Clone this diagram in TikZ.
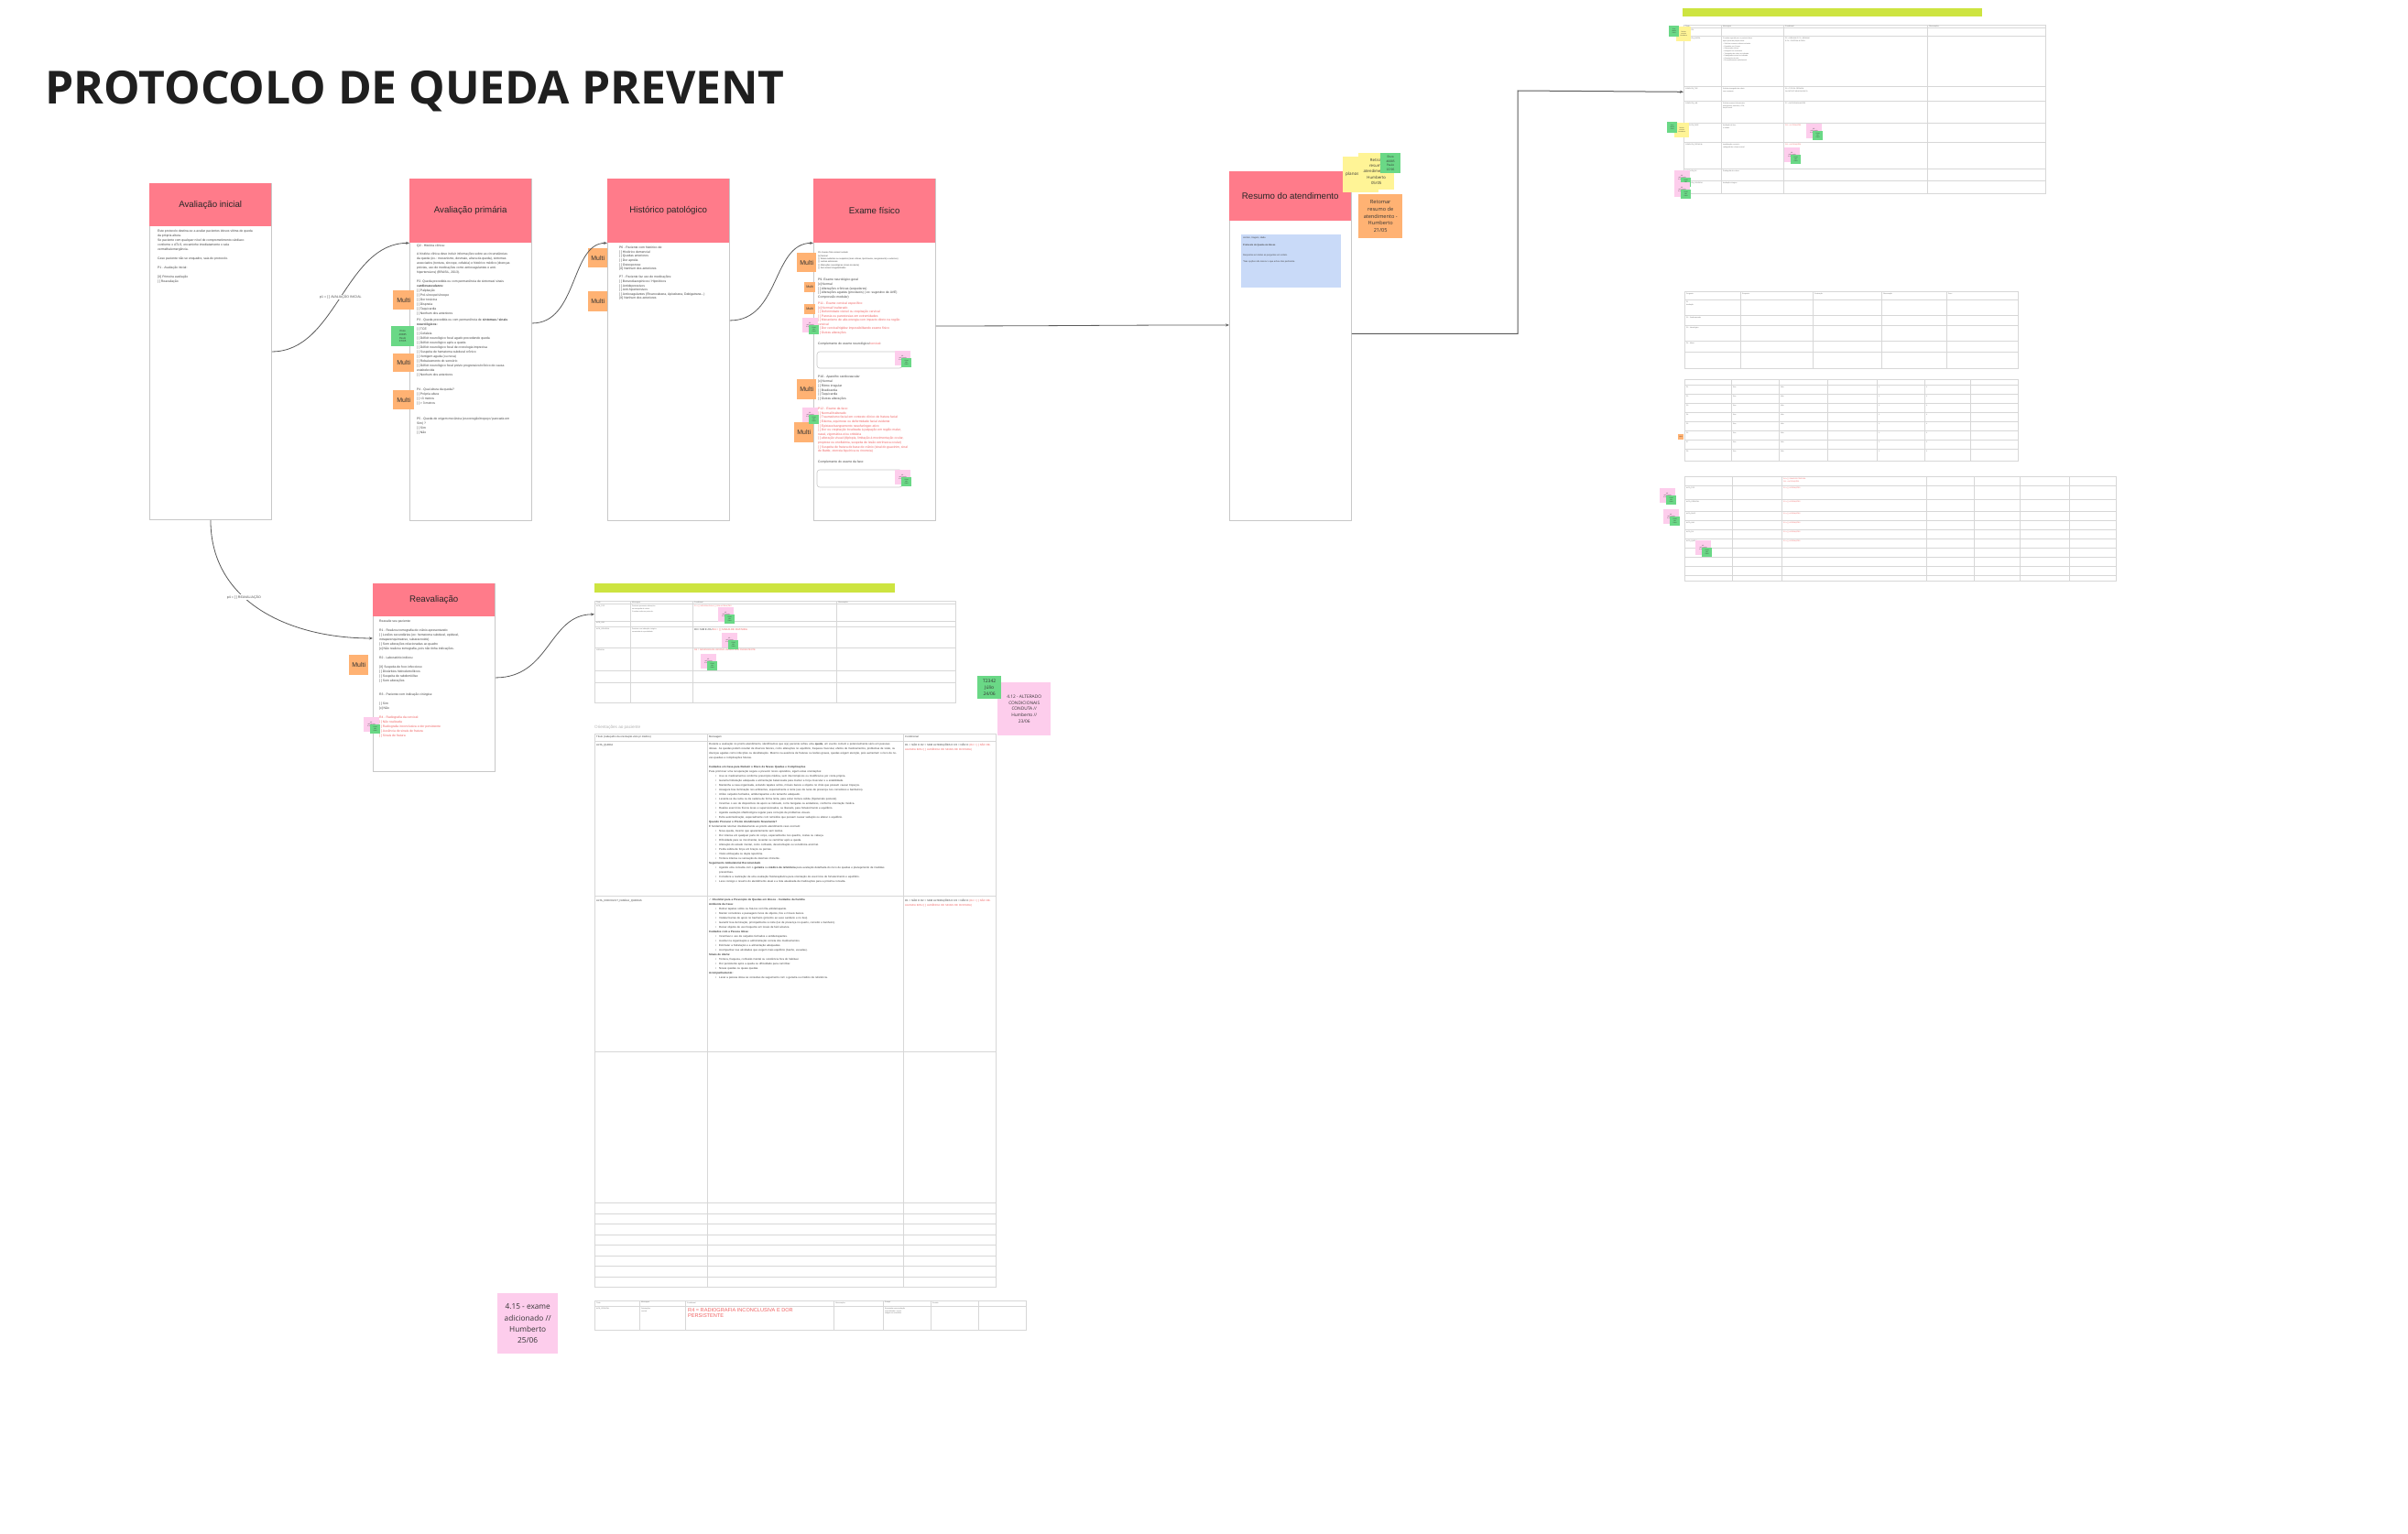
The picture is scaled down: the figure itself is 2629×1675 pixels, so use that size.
\documentclass[tikz,border=0pt]{standalone}
\usepackage{fontspec}
\setmainfont{Liberation Sans}
\newfontfamily\notas{Open Sans}
\newfontfamily\simb{DejaVu Sans}
\usetikzlibrary{arrows.meta}
\newcommand{\cx}[1]{[#1]}
\newenvironment{pontos}{\begin{list}{\textbullet}{\setlength{\leftmargin}{11pt}\setlength{\labelsep}{3pt}%
  \setlength{\itemsep}{0pt}\setlength{\parsep}{0pt}\setlength{\topsep}{0pt}\setlength{\partopsep}{0pt}}}{\end{list}}
\begin{document}
\begin{tikzpicture}[x=1pt,y=-1pt,
    cabeca/.style={fill=rosa, anchor=north west, minimum width=133, inner sep=0pt,
      text=black!85, font=\fontsize{9.7}{11}\selectfont},
    corpo/.style={draw=cinza, line width=0.9pt, fill=white, anchor=north west,
      minimum width=133, inner sep=0pt},
    texto/.style={anchor=north west, align=left, inner sep=0pt, text=black!75,
      font=\fontsize{3.4}{#1}\selectfont},
    texto/.default=5,
    miudo/.style={anchor=north west, align=left, inner sep=0pt, text=black!60,
      font=\fontsize{1.8}{2.6}\selectfont},
    multi/.style={fill=laranja, anchor=north west, inner sep=0pt, text=black!80,
      font=\fontsize{7}{8}\selectfont},
    nota/.style={anchor=north west, inner sep=0pt, align=center, text=black!80},
    seta/.style={draw=linha, line width=0.8pt, -{Stealth[length=4pt,width=3pt]}},
    rotulo/.style={fill=white, inner sep=0.8pt, text=black!70, font=\fontsize{3.6}{4}\selectfont},
    tabela/.style={draw=grade, line width=0.6pt, anchor=north west, inner sep=0pt},
    grade/.style={draw=grade, line width=0.6pt}
  ]
  % cores
  \definecolor{rosa}{RGB}{255,123,138}
  \definecolor{cinza}{RGB}{200,200,200}
  \definecolor{laranja}{RGB}{255,178,115}
  \definecolor{amarelo}{RGB}{255,244,150}
  \definecolor{verde}{RGB}{106,216,134}
  \definecolor{lilas}{RGB}{253,205,236}
  \definecolor{azul}{RGB}{201,218,248}
  \definecolor{limao}{RGB}{205,228,64}
  \definecolor{linha}{RGB}{90,90,90}
  \definecolor{grade}{RGB}{215,215,215}
  \definecolor{verm}{RGB}{240,95,95}

  % fundo e margens
  \fill[white] (0,0) rectangle (2629,1675);
  \useasboundingbox (0,0) rectangle (2629,1675);

  % titulo
  \node[anchor=west, inner sep=0pt, text=black!88, font=\notas\bfseries\fontsize{49.8}{55}\selectfont]
    (titulo) at (49,100) {PROTOCOLO DE QUEDA PREVENT};

  % Avaliacao inicial
  \node[corpo, minimum height=367] (ini) at (163,200) {};
  \node[cabeca, minimum height=47] (iniH) at (163,200) {Avaliação inicial};
  \node[texto] (iniT) at (172,251) {Este protocolo destina-se a avaliar pacientes idosos vítima de queda\\
    da própria altura.\\
    Se paciente com qualquer nível de comprometimento cárdiaco\\
    conforme o ATLS, encaminhe imediatamente o sala\\
    vermelha/emergência.\\[5pt]
    Caso paciente não se enquadre, saia do protocolo.\\[5pt]
    P1 - Avaliação inicial:\\[5pt]
    \cx{X} Primeira avaliação\\
    \cx{ } Reavaliação};

  % Avaliacao primaria
  \node[corpo, minimum height=373] (pri) at (447,195) {};
  \node[cabeca, minimum height=70] (priH) at (447,195) {Avaliação primária};
  \node[texto] at (455,267) {Q2 - História clínica:};
  \node[texto] at (455,276) {A história clínica deve incluir informações sobre as circunstâncias\\
    da queda (ex.: mecanismo, desmaio, altura da queda), sintomas\\
    associados (tontura, síncope, cefaleia) e histórico médico (doenças\\
    prévias, uso de medicações como anticoagulantes e anti-\\
    hipertensivos) (BRASIL, 2013).};
  \node[texto] at (455,306) {P2- Queda precedida ou com permanência de sintomas/ sinais\\
    \textbf{cardiovasculares:}\\
    \cx{ } Palpitação\\
    \cx{ } Pré-síncope/síncope\\
    \cx{ } Dor torácica\\
    \cx{ } Dispneia\\
    \cx{ } Taquicardia\\
    \cx{ } Nenhum dos anteriores};
  \node[texto] at (455,348) {P3 - Queda precedida ou com permanência de \textbf{sintomas / sinais}\\
    \textbf{neurológicos:}\\
    \cx{ } TCE\\
    \cx{ } Cefaleia\\
    \cx{ } Déficit neurológico focal agudo precedendo queda\\
    \cx{ } Déficit neurológico após a queda\\
    \cx{ } Déficit neurológico focal de cronologia imprecisa\\
    \cx{ } Suspeita de hematoma subdural crônico\\
    \cx{ } Vertigem aguda (ou nova)\\
    \cx{ } Rebaixamento do sensório\\
    \cx{ } Déficit neurológico focal prévio progressivo/crônico de causa\\
    estabelecida\\
    \cx{ } Nenhum dos anteriores};
  \node[texto] at (455,424) {P4 - Qual altura da queda?\\
    \cx{ } Própria altura\\
    \cx{ } <3 metros\\
    \cx{ } > 3 metros};
  \node[texto] at (455,456) {P5 - Queda de origem mecânica (escorregão/tropeço/ pancada em\\
    Sim) ?\\
    \cx{ } Sim\\
    \cx{ } Não};

  % Historico patologico
  \node[corpo, minimum height=373] (his) at (663,195) {};
  \node[cabeca, minimum height=70] (hisH) at (663,195) {Histórico patológico};
  \node[texto=4.6] at (676,269) {P6 - Paciente com histórico de:\\
    \cx{ } Histórico demencial\\
    \cx{ } Quedas anteriores\\
    \cx{ } Dor apnéia\\
    \cx{ } Osteoporose\\
    \cx{X} Nenhum dos anteriores\\[4.6pt]
    P7 - Paciente faz uso de medicações:\\
    \cx{ } Benzodiazepínicos / Hipnóticos\\
    \cx{ } Antidepressivos\\
    \cx{ } Anti-hipertensivos\\
    \cx{ } Anticoagulantes (Rivaroxabana, Apixabana, Dabigatrana...)\\
    \cx{X} Nenhum dos anteriores};

  % Exame fisico
  \node[corpo, minimum height=373] (exa) at (888,195) {};
  \node[cabeca, minimum height=70] (exaH) at (888,195) {Exame físico};
  \node[texto, font=\fontsize{2.3}{3.3}\selectfont] at (893,275) {P8- Exame físico sinais/ seriado\\
    \cx{x} Normal\\
    \cx{ } Sinais evidentes ou suspeitos (mais vítimas, tipo/trauma, sangramento) e externos)\\
    \cx{ } Lesões estruturais\\
    \cx{ } Alterações neurológicas (sinais de alerta)\\
    \cx{ } Sem sinais/ irregularidades};
  \node[texto=4.7] at (893,304) {P9- Exame neurológico geral\\
    \cx{x} Normal\\
    \cx{ } Alterações crônicas (sequelares)\\
    \cx{ } Alterações agudas (prováveis) ( ex: sugestivo de AVE)\\
    Compressão medular)};
  \node[texto=4.5, text=verm] at (893,330) {P11 - Exame cervical específico:\\
    \cx{x} Normal/ inalterado\\
    \cx{ } Deformidade visível ou crepitação cervical\\
    \cx{ } Paresia ou parestesias em extremidades\\
    \cx{ } Mecanismo de alta energia com impacto direto na região\\
    cervical\\
    \cx{ } Dor cervical/rigidez impossibilitando exame físico\\
    \cx{ } Outras alterações};
  \node[texto] at (893,374) {Complemento do exame neurológico/\textcolor{verm}{cervical}:};
  \draw[cinza, line width=0.6pt, rounded corners=3pt] (892,384) rectangle (985,402);
  \node[texto=4.8] at (893,410) {P10 - Aparelho cardiovascular\\
    \cx{x} Normal\\
    \cx{ } Ritmo irregular\\
    \cx{ } Bradicardia\\
    \cx{ } Taquicardia\\
    \cx{ } Outras alterações};
  \node[texto=4.6, text=verm] at (893,445) {P12 - Exame da face:\\
    \cx{ } Normal/inalterado\\
    \cx{ } Traumatismo facial em contexto clínico de fratura facial\\
    \cx{ } Edema, equimose ou deformidade facial evidente\\
    \cx{ } Epistaxe/sangramento nasofaríngeo ativo\\
    \cx{ } Dor ou crepitação localizada à palpação em região malar,\\
    nasal, zigomática e/ou orbitária\\
    \cx{ } alteração visual (diplopia, limitação à movimentação ocular,\\
    proptose ou enoftalmia, suspeita de lesão extrínseca ocular)\\
    \cx{ } Suspeita de fratura de base de crânio (sinal do guaxinim, sinal\\
    de Battle, otorreia liquórica ou rinorreia)};
  \node[texto] at (893,503) {Complemento do exame da face:};
  \draw[cinza, line width=0.6pt, rounded corners=3pt] (892,513) rectangle (985,532);

  % Resumo do atendimento
  \node[corpo, minimum height=381] (res) at (1342,187) {};
  \node[cabeca, minimum height=54] (resH) at (1342,187) {Resumo do atendimento};
  \node[fill=azul, anchor=north west, minimum width=109, minimum height=58, inner sep=0pt] (resB) at (1355,256) {};
  \node[texto=3.8, font=\fontsize{2.4}{3.8}\selectfont] at (1357,259) {Horário, triagem, idade.\\[3.5pt]
    \textbf{Protocolo de Queda em Idosos}\\[7pt]
    Respostas em todas as perguntas em ordem.\\[3.5pt]
    *Nas opções não marcar o que achou não pertinente};

  % Reavaliacao
  \node[corpo, minimum height=205] (rea) at (407,637) {};
  \node[cabeca, minimum height=36] (reaH) at (407,637) {Reavaliação};
  \node[texto] at (414,677) {Reavalie seu paciente:\\[5pt]
    R1 - Realizou tomografia de crânio apresentando:\\
    \cx{ } Lesões secundárias (ex: hematoma subdural, epidural,\\
    intraparenquimatoso, subaracnoide)\\
    \cx{ } Sem alterações relacionadas ao quadro\\
    \cx{x} Não realizou tomografia, pois não tinha indicações.\\[5pt]
    R2 - Laboratório indicou:\\[5pt]
    \cx{X} Suspeita de foco infeccioso\\
    \cx{ } Distúrbios hidroeletrolíticos\\
    \cx{ } Suspeita de rabdomiólise\\
    \cx{ } Sem alterações\\[10pt]
    R3 - Paciente com indicação cirúrgica:\\[5pt]
    \cx{ } Sim\\
    \cx{x} Não\\[5pt]
    \textcolor{verm}{R4 - Radiografia da cervical:}\\
    \textcolor{verm}{\cx{ } Não realizada}\\
    \textcolor{verm}{\cx{ } Radiografia inconclusiva e dor persistente}\\
    \textcolor{verm}{\cx{ } Ausência de sinais de fratura}\\
    \textcolor{verm}{\cx{ } Sinais de fratura}};

  % tabela da reavaliacao
  \fill[limao] (649,637) rectangle (977,647);
  \node[tabela, minimum width=394, minimum height=111] (tabR) at (649,656) {};
  \foreach \x in {688,756,913} \draw[grade] (\x,656) -- (\x,767);
  \foreach \y in {659,678,684,707,732,745} \draw[grade] (649,\y) -- (1043,\y);
  \node[miudo] at (651,657) {Título};
  \node[miudo] at (690,657) {Mensagem};
  \node[miudo] at (758,657) {Condicional};
  \node[miudo] at (915,657) {Observações};
  \node[miudo] at (651,661) {ALTA\_TCE};
  \node[miudo] at (690,661) {Paciente apresentou alterações\\na tomografia de crânio.\\[1pt]Conduta conforme protocolo.};
  \node[miudo, text=verm] at (758,661) {R1 = \cx{ } NÃO REALIZADA / \cx{ } SEM ALTERAÇÕES};
  \node[miudo] at (651,679) {ALTA\_LAB};
  \node[miudo] at (651,686) {ALTA\_CIRURGIA};
  \node[miudo] at (690,686) {Paciente com indicação cirúrgica,\\encaminhar à especialidade.};
  \node[texto, font=\fontsize{2.8}{3.5}\selectfont] at (758,686) {R3= SIM E /OU \textcolor{verm}{R4 = \cx{ } SINAIS DE FRATURA}};
  \node[miudo] at (651,709) {CERVICAL};
  \node[texto, text=verm, font=\fontsize{2.4}{3}\selectfont] at (758,709) {R4 = RADIOGRAFIA INCONCLUSIVA E DOR PERSISTENTE};

  % tabela grande
  \node[anchor=west, inner sep=0pt, text=black!30, font=\fontsize{4.6}{5}\selectfont] at (649,794) {Orientações ao paciente};
  \node[tabela, minimum width=438, minimum height=604] (tabG) at (649,801) {};
  \foreach \x in {772,986} \draw[grade] (\x,801) -- (\x,1405);
  \foreach \y in {809,978,1148,1313,1325,1336,1348,1359,1371,1382,1394} \draw[grade] (649,\y) -- (1087,\y);
  \node[texto, font=\fontsize{2.8}{3.4}\selectfont] at (651,803.5) {Título (cabeçalho da orientação visto p/ médico)};
  \node[texto, font=\fontsize{2.8}{3.4}\selectfont] at (774,803.5) {Mensagem};
  \node[texto, font=\fontsize{2.8}{3.4}\selectfont] at (988,803.5) {Condicional};
  \node[texto, font=\fontsize{2.8}{3.4}\selectfont] at (651,812) {ALTA\_QUEDA};
  \node[texto, font=\fontsize{2.8}{3.4}\selectfont] at (651,982) {ALTA\_CHECKLIST\_FAMÍLIA\_QUEDAS};
  \foreach \yy in {812,982}
    \node[texto, text width=94, font=\fontsize{2.8}{4.8}\selectfont] at (988,\yy) {R1 = NÃO E R2 = SEM ALTERAÇÕES E R3 = NÃO E \textcolor{verm}{(R4 = \cx{ } NÃO REALIZADA E/OU \cx{ } AUSÊNCIA DE SINAIS DE FRATURA)}};
  \node[texto, text width=207, font=\fontsize{2.9}{5}\selectfont] (msg1) at (774,811) {%
    Durante a avaliação no pronto atendimento, identificamos que o(a) paciente sofreu uma \textbf{queda}, um evento comum e
    potencialmente sério em pessoas idosas. As quedas podem resultar de diversos fatores, como alterações no equilíbrio,
    fraqueza muscular, efeitos de medicamentos, problemas de visão, ou doenças agudas como infecções ou desidratação.
    Mesmo na ausência de fraturas ou lesões graves, quedas exigem atenção, pois aumentam o risco de novas quedas e
    complicações futuras.\par\vspace{5pt}
    \textbf{Cuidados em Casa para Reduzir o Risco de Novas Quedas e Complicações}\par
    Para promover uma recuperação segura e prevenir novos episódios, sigam estas orientações:
    \begin{pontos}
      \item Use os medicamentos conforme prescrição médica, sem interrompê-los ou modificá-los por conta própria.
      \item Garanta hidratação adequada e alimentação balanceada para manter a força muscular e a estabilidade.
      \item Mantenha a casa organizada, evitando tapetes soltos, móveis baixos e objetos no chão que possam causar tropeços.
      \item Assegure boa iluminação nos ambientes, especialmente à noite (uso de luzes de presença nos corredores e banheiros).
      \item Utilize calçados fechados, antiderrapantes e do tamanho adequado.
      \item Levante-se da cama ou da cadeira de forma lenta, para evitar tontura súbita (hipotensão postural).
      \item Incentive o uso de dispositivos de apoio se indicado, como bengalas ou andadores, conforme orientação médica.
      \item Realize exercícios físicos leves e supervisionados, se liberado, para fortalecimento e equilíbrio.
      \item Agende avaliação oftalmológica regular para correção de problemas visuais.
      \item Evite automedicação, especialmente com remédios que possam causar sedação ou alterar o equilíbrio.
    \end{pontos}
    \textbf{Quando Procurar o Pronto Atendimento Novamente?}\par
    É fundamental retornar imediatamente ao pronto atendimento caso ocorram:
    \begin{pontos}
      \item Nova queda, mesmo que aparentemente sem lesões.
      \item Dor intensa em qualquer parte do corpo, especialmente nos quadris, costas ou cabeça.
      \item Dificuldade para se movimentar, levantar ou caminhar após a queda.
      \item Alteração do estado mental, como confusão, desorientação ou sonolência anormal.
      \item Perda súbita de força em braços ou pernas.
      \item Visão embaçada ou dupla repentina.
      \item Tontura intensa ou sensação de desmaio iminente.
    \end{pontos}
    \textbf{Seguimento Ambulatorial Recomendado}
    \begin{pontos}
      \item Agende uma consulta com o \textbf{geriatra} ou \textbf{médico de referência} para avaliação detalhada do risco de quedas e planejamento de medidas preventivas.
      \item Considere a realização de uma avaliação fisioterapêutica para orientação de exercícios de fortalecimento e equilíbrio.
      \item Leve consigo o resumo do atendimento atual e a lista atualizada de medicações para a próxima consulta.
    \end{pontos}};
  \node[texto, text width=207, font=\fontsize{2.9}{5}\selectfont] (msg2) at (774,981) {%
    \textbf{{\simb ✓} Checklist para a Prevenção de Quedas em Idosos - Cuidados da Família}\par
    \textbf{Ambiente da Casa:}
    \begin{pontos}
      \item Retirar tapetes soltos ou fixá-los com fita antiderrapante.
      \item Manter corredores e passagens livres de objetos, fios e móveis baixos.
      \item Instalar barras de apoio no banheiro (próximo ao vaso sanitário e no box).
      \item Garantir boa iluminação, principalmente à noite (luz de presença no quarto, corredor e banheiro).
      \item Deixar objetos de uso frequente em locais de fácil alcance.
    \end{pontos}
    \textbf{Cuidados com a Pessoa Idosa:}
    \begin{pontos}
      \item Incentivar o uso de calçados fechados e antiderrapantes.
      \item Auxiliar na organização e administração correta dos medicamentos.
      \item Estimular a hidratação e a alimentação adequadas.
      \item Acompanhar nas atividades que exigem mais equilíbrio (banho, escadas).
    \end{pontos}
    \textbf{Sinais de Alerta:}
    \begin{pontos}
      \item Tontura, fraqueza, confusão mental ou sonolência fora do habitual.
      \item Dor persistente após a queda ou dificuldade para caminhar.
      \item Novas quedas ou quase quedas.
    \end{pontos}
    \textbf{Acompanhamento:}
    \begin{pontos}
      \item Levar a pessoa idosa às consultas de seguimento com o geriatra ou médico de referência.
    \end{pontos}};

  % tabela de baixo
  \node[tabela, minimum width=471, minimum height=32] (tabB) at (649,1420) {};
  \foreach \x in {698,748,910,964,1016,1068} \draw[grade] (\x,1420) -- (\x,1452);
  \draw[grade] (649,1426) -- (1120,1426);
  \node[miudo] at (651,1421.5) {Título};
  \node[miudo] at (700,1421.5) {Mensagem};
  \node[miudo] at (750,1421.5) {Condicional};
  \node[miudo] at (912,1421.5) {Observações};
  \node[miudo] at (966,1421.5) {Prompt};
  \node[miudo] at (1018,1421.5) {Revisão};
  \node[miudo] at (651,1428) {ALTA\_CERVICAL};
  \node[miudo] at (700,1428) {Orientações\\cervical};
  \node[texto, text=verm, font=\fontsize{5.6}{6.4}\selectfont] at (751,1428) {R4 = RADIOGRAFIA INCONCLUSIVA E DOR\\PERSISTENTE};
  \node[miudo] at (966,1428) {Encaminhar para avaliação\\especializada e repetir\\imagem se necessário};

  % tabelas da direita
  \fill[limao] (1837,9) rectangle (2164,18);
  \node[tabela, minimum width=395, minimum height=184] (tabD) at (1838,27) {};
  \foreach \x in {1879,1947,2104} \draw[grade] (\x,27) -- (\x,211);
  \foreach \y in {30,39,94,110,134,155,184,197} \draw[grade] (1838,\y) -- (2233,\y);
  \node[miudo] at (1840,28) {Título};
  \node[miudo] at (1881,28) {Mensagem};
  \node[miudo] at (1949,28) {Condicional};
  \node[miudo] at (2106,28) {Observações};
  \foreach \yy/\rot in {32/CONDUTA, 41/CONDUTA\_QUEDA, 96/CONDUTA\_TCE, 112/CONDUTA\_LAB, 136/CONDUTA\_FACE, 157/CONDUTA\_CERVICAL, 186/CONDUTA\_RX, 199/CONDUTA\_CIRURGIA}
    \node[miudo] at (1840,\yy) {\rot};
  \node[miudo] at (1881,41) {Conduta sugerida para o paciente idoso\\após queda da própria altura:\\[1pt]
    -- Solicitar exames conforme achados\\-- Reavaliar em 6 horas\\-- Observação clínica\\-- Analgesia se necessário\\
    -- Tomografia de crânio se indicada\\-- Radiografia cervical se indicada\\-- Orientações de alta\\-- Encaminhamento ambulatorial};
  \node[miudo] at (1949,41) {P2 = NENHUM E P3 = NENHUM\\E P4 = PRÓPRIA ALTURA};
  \node[miudo] at (1881,96) {Solicitar tomografia de crânio\\sem contraste.};
  \node[miudo] at (1949,96) {P3 = TCE OU CEFALEIA\\OU DÉFICIT NEUROLÓGICO};
  \node[miudo] at (1881,112) {Solicitar exames laboratoriais:\\hemograma, eletrólitos, CPK,\\função renal.};
  \node[miudo] at (1949,112) {P7 = ANTICOAGULANTES};
  \node[miudo] at (1881,136) {Avaliação de face\\e órbitas.};
  \node[miudo, text=verm] at (1949,136) {P12 = ALTERAÇÕES};
  \node[miudo] at (1881,157) {Imobilização cervical e\\radiografia de coluna cervical.};
  \node[miudo, text=verm] at (1949,157) {P11 = ALTERAÇÕES};
  \node[miudo] at (1881,186) {Radiografia de coluna.};
  \node[miudo] at (1881,199) {Avaliação cirúrgica.};

  \node[tabela, minimum width=364, minimum height=84] (tabD2) at (1839,318) {};
  \foreach \x in {1900,1979,2054,2125} \draw[grade] (\x,318) -- (\x,402);
  \foreach \y in {327,344,355,372,384} \draw[grade] (1839,\y) -- (2203,\y);
  \foreach \xx/\rot in {1841/Pergunta, 1902/Resposta, 1981/Pontuação, 2056/Observação, 2127/Peso}
    \node[miudo] at (\xx,320) {\rot};
  \node[miudo] at (1841,329) {P1\\Avaliação};
  \node[miudo] at (1841,346) {P2 - Cardiovascular};
  \node[miudo] at (1841,357) {P3 - Neurológico};
  \node[miudo] at (1841,374) {P4 - Altura};

  \node[tabela, minimum width=364, minimum height=89] (tabD3) at (1839,414) {};
  \foreach \x in {1890,1942,1995,2049,2101,2151} \draw[grade] (\x,414) -- (\x,503);
  \foreach \y in {420,430,440,450,460,470,480,490} \draw[grade] (1839,\y) -- (2203,\y);
  \foreach \yy/\rot in {422/P1, 432/P2, 442/P3, 452/P4, 462/P5, 472/P6, 482/P7, 492/P8}
  {
    \node[miudo] at (1841,\yy) {\rot};
    \node[miudo] at (1892,\yy) {Sim};
    \node[miudo] at (1944,\yy) {Não};
    \node[miudo] at (2051,\yy) {1};
    \node[miudo] at (2103,\yy) {0};
  }

  \node[tabela, minimum width=471, minimum height=114] (tabD4) at (1839,520) {};
  \foreach \x in {1891,1945,2103,2155,2205,2259} \draw[grade] (\x,520) -- (\x,634);
  \foreach \y in {530,545,558,568,578,588,598,608,618,628} \draw[grade] (1839,\y) -- (2310,\y);
  \node[miudo, text=verm] at (1947,522) {R4 = \cx{ } SINAIS DE FRATURA\\P11 = ALTERAÇÕES};
  \foreach \yy/\rot in {532/ALTA\_TCE, 547/ALTA\_CERVICAL, 560/ALTA\_FACE, 570/ALTA\_LAB, 580/ALTA\_RX, 590/ALTA\_QUEDA}
  {
    \node[miudo] at (1841,\yy) {\rot};
    \node[miudo, text=verm] at (1947,\yy) {R1 = \cx{ } ALTERAÇÕES};
  }

  % etiquetas Multi
  \node[multi, minimum width=23, minimum height=21] (m1) at (429,317) {Multi};
  \node[multi, minimum width=23, minimum height=20] (m2) at (429,386) {Multi};
  \node[multi, minimum width=23, minimum height=21] (m3) at (429,426) {Multi};
  \node[multi, minimum width=21, minimum height=21] (m4) at (642,271) {Multi};
  \node[multi, minimum width=21, minimum height=22] (m5) at (642,318) {Multi};
  \node[multi, minimum width=21, minimum height=21] (m6) at (870,276) {Multi};
  \node[multi, minimum width=12, minimum height=11, font=\fontsize{3.6}{4}\selectfont] (m7) at (878,308) {Multi};
  \node[multi, minimum width=12, minimum height=11, font=\fontsize{3.6}{4}\selectfont] (m8) at (878,332) {Multi};
  \node[multi, minimum width=21, minimum height=22] (m9) at (870,414) {Multi};
  \node[multi, minimum width=21, minimum height=22] (m10) at (867,461) {Multi};
  \node[multi, minimum width=21, minimum height=22] (m11) at (381,715) {Multi};
  \node[multi, minimum width=6, minimum height=6, font=\fontsize{1.5}{2}\selectfont] (m12) at (1832,474) {Multi};

  % post-its pequenos
  \node[nota, fill=verde, minimum width=25, minimum height=22, font=\notas\fontsize{2.8}{3.8}\selectfont] (n1) at (427,356) {Enzo\\40085\\Paulo\\07/05};
  \foreach \px/\py/\nome in {876/347/a, 977/383/b, 876/445/c, 977/513/d, 397/783/e,
      784/663/f, 788/691/g, 765/714/h, 1972/135/i, 1948/161/j, 1828/186/k, 1828/199/l,
      1812/533/m, 1816/556/n, 1851/590/o}
  {
    \node[nota, fill=lilas, minimum width=17, minimum height=16, font=\notas\fontsize{1.6}{2.2}\selectfont] (p\nome) at (\px,\py) {4.8 -\\adicionado\\// Humberto};
    \node[nota, fill=verde, minimum width=11, minimum height=10, font=\notas\fontsize{1.5}{2}\selectfont] (g\nome) at (\px+7,\py+8) {T2342\\Júlio\\24/06};
  }
  \foreach \px/\py/\nome in {1822/28/a, 1820/133/b}
  {
    \node[nota, fill=amarelo, minimum width=16, minimum height=16, font=\notas\fontsize{1.6}{2.2}\selectfont] (y\nome) at (\px+8,\py+1) {Retirar\\resumo\\Humberto};
    \node[nota, fill=verde, minimum width=11, minimum height=12, font=\notas\fontsize{1.5}{2}\selectfont] (v\nome) at (\px,\py) {Enzo\\40085\\Paulo};
  }

  % post-its do resumo
  \node[nota, fill=amarelo, minimum width=39, minimum height=39] (n2) at (1466,171) {};
  \node[anchor=west, inner sep=0pt, font=\notas\fontsize{4.6}{5}\selectfont, text=black!80] at (1469,190) {planos};
  \node[nota, fill=amarelo, minimum width=39, minimum height=40, font=\notas\fontsize{4.3}{6.3}\selectfont] (n3) at (1483,167) {Retirar\\resumo\\atendimento -\\Humberto\\05/05};
  \node[nota, fill=verde, minimum width=22, minimum height=22, font=\notas\fontsize{3.2}{4.6}\selectfont] (n4) at (1507,167) {Enzo\\40085\\Paulo\\07/05};
  \node[nota, fill=laranja, minimum width=48, minimum height=48, font=\notas\fontsize{5.6}{7.6}\selectfont] (n5) at (1483,212) {Retomar\\resumo de\\atendimento -\\Humberto\\21/05};

  % post-its soltos
  \node[nota, fill=lilas, minimum width=66, minimum height=66, font=\notas\fontsize{8.3}{12.3}\selectfont] (n6) at (543,1412) {4.15 - exame\\adicionado //\\Humberto\\25/06};
  \node[nota, fill=lilas, minimum width=58, minimum height=58, font=\notas\fontsize{4.8}{6.7}\selectfont] (n7) at (1089,745) {4.12 - ALTERADO\\CONDICIONAIS\\CONDUTA //\\Humberto //\\23/06};
  \node[nota, fill=verde, minimum width=26, minimum height=25, font=\notas\fontsize{5}{7}\selectfont] (n8) at (1067,738) {T2342\\Júlio\\24/06};

  % conexoes
  \draw[seta] (ini.east) .. controls +(70,0) and +(-70,0) .. (priH.south west)
    node[rotulo, pos=0.5] {p1 = [ ] AVALIAÇÃO INICIAL};
  \draw[seta] ([yshift=29pt]pri.east) .. controls +(50,0) and +(-40,0) .. (hisH.south west);
  \draw[seta] ([yshift=32pt]his.east) .. controls +(55,0) and +(-45,0) .. (exaH.south west);
  \draw[seta] ([yshift=26pt]exa.east) .. controls +(140,0) and +(-140,0) .. ([yshift=23pt]res.west);
  \draw[seta, line width=1pt] ([yshift=13.5pt]res.east) -| (1657,99) -- ([yshift=19pt]tabD.west);
  \draw[seta] (ini.south) .. controls +(0,90) and +(-90,0) .. ([yshift=43pt]rea.west)
    node[rotulo, pos=0.4] {p4 = [ ] REAVALIAÇÃO};
  \draw[seta] (rea.east) .. controls +(60,0) and +(-50,0) .. ([yshift=41pt]tabR.west);
\end{tikzpicture}
\end{document}
